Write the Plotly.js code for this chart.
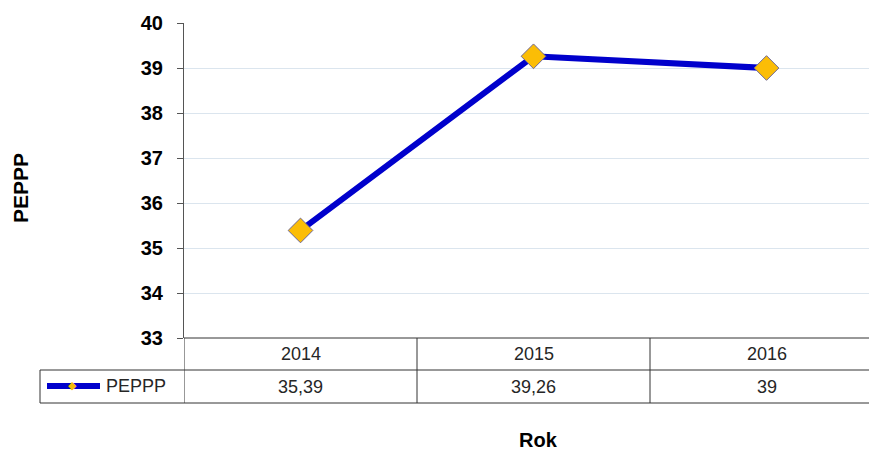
<!DOCTYPE html>
<html><head><meta charset="utf-8">
<script src="https://cdn.plot.ly/plotly-3.0.1.min.js"></script>
<style>html,body{margin:0;padding:0;background:#fff;}</style>
</head><body>
<div id="chart" style="width:869px;height:450px;"></div>
<script>
const years = ['2014', '2015', '2016'];
const peppp = [35.39, 39.26, 39];
const valueLabels = ['35,39', '39,26', '39'];
const seriesName = 'PEPPP';
const yTicks = [33, 34, 35, 36, 37, 38, 39, 40];
const xTitle = 'Rok';
const yTitle = 'PEPPP';

const W = 869, H = 450, L = 184, T = 23, B = 338;
const pw = W - L, ph = B - T;
const px = x => (x - L) / pw;
const py = y => (B - y) / ph;

const shapes = [];
const annotations = [];
const lineCol = '#333333';
const tableFont = {family:'Liberation Sans, Arial', size:18, color:'#262626'};
// table horizontal lines
shapes.push({type:'line', xref:'paper', yref:'paper', x0: 0, x1: 1.02, y0: py(338), y1: py(338), line:{color:lineCol, width:1}});
[370, 403].forEach(y => {
  shapes.push({type:'line', xref:'paper', yref:'paper', x0: px(40), x1: 1.02, y0: py(y), y1: py(y), line:{color:lineCol, width:1}});
});
shapes.push({type:'line', xref:'paper', yref:'paper', x0: px(40), x1: px(40), y0: py(370), y1: py(403), line:{color:lineCol, width:1}});
// vertical column boundaries (category edges)
[-0.5, 0.5, 1.5].forEach(c => {
  shapes.push({type:'line', xref:'x', yref:'paper', x0: c, x1: c, y0: py(338), y1: py(403), line:{color:lineCol, width:1}});
});
// legend sample
shapes.push({type:'line', xref:'paper', yref:'paper', x0: px(47), x1: px(100), y0: py(386), y1: py(386), line:{color:'#0000cc', width:6}});
annotations.push({xref:'paper', yref:'paper', x: px(73), y: py(386), text:'◆', showarrow:false, font:{family:'DejaVu Sans', size:11, color:'#f5bd0a'}, xanchor:'center', yanchor:'middle'});
annotations.push({xref:'paper', yref:'paper', x: px(104), y: py(386), text: seriesName, showarrow:false, font:tableFont, xanchor:'left', yanchor:'middle'});

years.forEach((yr, i) => {
  annotations.push({xref:'x', yref:'paper', x: i, y: py(354), text: yr, showarrow:false, font:tableFont, xanchor:'center', yanchor:'middle'});
  annotations.push({xref:'x', yref:'paper', x: i, y: py(387), text: valueLabels[i], showarrow:false, font:tableFont, xanchor:'center', yanchor:'middle'});
});
annotations.push({xref:'paper', yref:'paper', x: px(538), y: py(440), text: '<b>' + xTitle + '</b>', showarrow:false, font:{family:'Liberation Sans, Arial', size:20, color:'#000'}, xanchor:'center', yanchor:'middle'});
annotations.push({xref:'paper', yref:'paper', x: px(20), y: py(188), text: '<b>' + yTitle + '</b>', textangle:-90, showarrow:false, font:{family:'Liberation Sans, Arial', size:21, color:'#000'}, xanchor:'center', yanchor:'middle'});

const trace = {
  x: [0, 1, 2], y: peppp, type:'scatter', mode:'lines+markers', name: seriesName,
  line:{color:'#0000cc', width:6},
  marker:{symbol:'diamond', size:19, color:'#fbbd06', line:{color:'#6e6896', width:1}},
  hoverinfo:'skip', cliponaxis:false
};

const layout = {
  width: W, height: H,
  margin:{l:L, r:0, t:T, b:H - B, pad:0},
  paper_bgcolor:'#fff', plot_bgcolor:'#fff',
  showlegend:false,
  xaxis:{range:[-0.5, -0.5 + pw/233], showgrid:false, zeroline:false, showticklabels:false, showline:false, ticks:'', fixedrange:true},
  yaxis:{range:[33, 40], tickvals: yTicks, ticktext: yTicks.map(String), showgrid:true, gridcolor:'#dbe5ee', gridwidth:1,
    zeroline:false, showline:true, linecolor:'#555', linewidth:1, ticks:'outside', ticklen:6, tickcolor:'#555',
    ticklabelstandoff: 10,
    tickfont:{family:'Liberation Sans, Arial', size:20, color:'#000', weight:'bold'}, fixedrange:true},
  shapes, annotations
};
Plotly.newPlot('chart', [trace], layout, {staticPlot:true, displayModeBar:false});
</script>
</body></html>
